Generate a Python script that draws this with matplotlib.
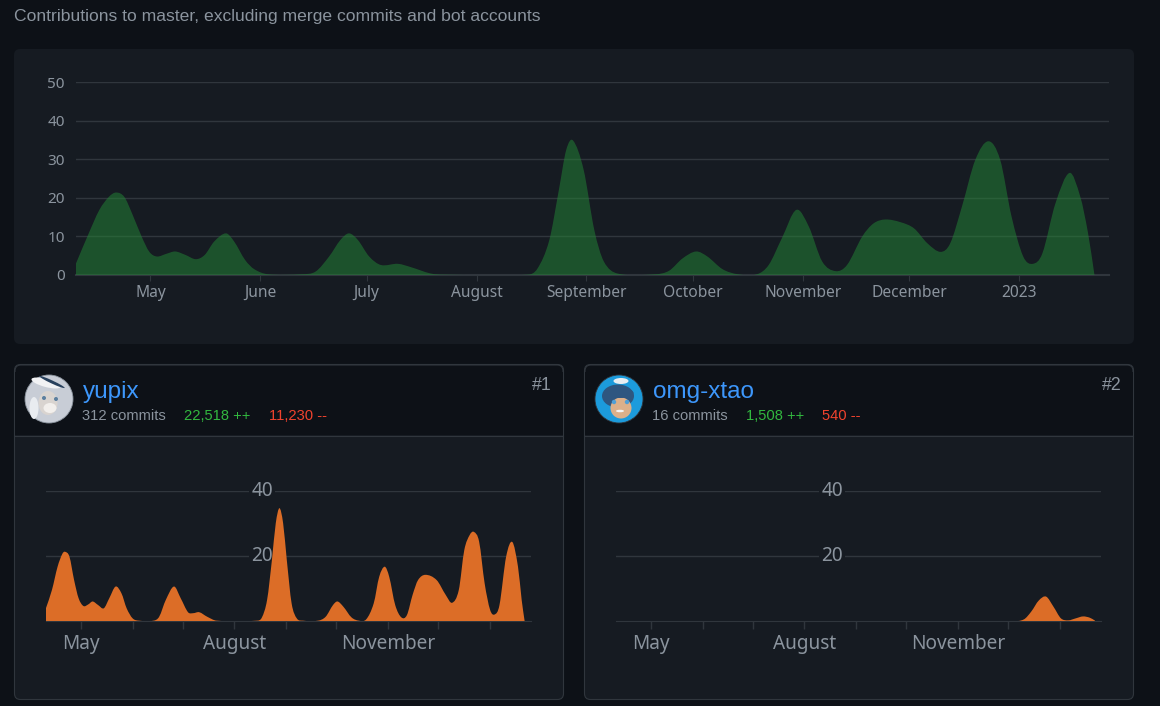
#!/usr/bin/python
# Contributors page: total commits on top, one card per contributor below
import numpy as np
import matplotlib
matplotlib.use('Agg')
import matplotlib.pyplot as plt
from matplotlib.patches import Circle, Ellipse, FancyBboxPatch, PathPatch, Rectangle
from matplotlib.path import Path

# x values are days since 2022-04-10
total_days = [0, 3.4, 6.6, 9.3, 11.3, 13.6, 15.8, 18.5, 20.7, 22.8, 25.5, 28, 30.9, 33.8, 36.3, 39, 42.3, 44.6, 47.7,
              50.3, 54.1, 63.8, 67.6, 71.4, 74.6, 77, 79.5, 82.7, 86, 90.8, 94.6, 100, 103.8, 127.5, 130.2, 133.5,
              136.2, 138.3, 140.2, 143.2, 146.2, 148.9, 152.7, 163.5, 167.3, 171.1, 174.9, 178.1, 182.4, 186.7,
              192.1, 195.4, 199.1, 203.2, 206.7, 210.5, 214.3, 217.5, 221.8, 225, 228.3, 232.6, 236.4, 240.2, 243.9,
              246.6, 249.9, 253.7, 257.4, 260.7, 263.9, 267.2, 269.9, 272.6, 276.3, 280.3, 283.3, 285.5, 287.3]
total_commits = [3, 10.4, 16.9, 20.3, 21.4, 20.3, 16, 10, 6, 4.8, 5.5, 6.1, 5.2, 4.1, 5.2, 8.7, 10.8, 8.7, 3.9,
                 1.5, 0.2, 0.2, 0.9, 4.8, 9.1, 10.8, 9.1, 4.8, 2.6, 2.9, 2, 0.4, 0.1, 0.1, 1.7, 9,
                 22, 32.5, 34.9, 27.3, 11.7, 3.5, 0.4, 0.2, 1.1, 4.3, 6.1, 4.8, 1.5, 0.2,
                 0.2, 2.6, 9.5, 16.9, 12.6, 3.5, 1, 2.6, 10, 13.4, 14.4, 13.7, 12.1, 8.2, 6,
                 8.2, 17.7, 29.9, 34.7, 29.9, 15.2, 4.8, 2.9, 5.6, 18.6, 26.5, 20.3, 10.8, 0]

yupix_days = [0, 3.6, 7, 9.8, 11.4, 14.1, 16.9, 19.6, 22.5, 25.4, 28, 31.3, 34.7, 38, 41.8, 45.3, 48.4, 52, 55.7,
              64.6, 67.9, 71.9, 76.8, 80.8, 85.2, 88.3, 91.9, 96.7, 102.3, 126.7, 129.5, 132.6, 135.5, 137.8, 140,
              142.2, 144.4, 147.3, 150.4, 154, 163.2, 167.7, 172.1, 174.8, 178.3, 183.2, 187.6, 192, 196.5, 199.8,
              203.1, 205.8, 209.4, 213.1, 216.4, 219.8, 223.1, 227.5, 234.2, 239.7, 243.5, 247.5, 250.8, 254.1,
              256.6, 259.7, 263, 266.3, 269, 271.9, 275.9, 279.6, 283, 285.2, 287]
yupix_commits = [4, 9.6, 16.8, 20.7, 21.4, 19.9, 12.7, 7.1, 4.7, 5.2, 6.1, 5, 4, 7.1, 10.7, 8.6, 4, 0.9, 0.2,
                 0.2, 1.4, 6.6, 10.7, 7.1, 2.8, 2.5, 2.8, 1.4, 0.2, 0.2, 1.2, 6.6, 18.9, 30.2, 34.8,
                 30.2, 18.9, 5.5, 0.9, 0.2, 0.2, 1.4, 5, 6.1, 4.5, 1.2, 0.2, 0.6, 5.5, 13.7,
                 16.8, 13.7, 5, 1.2, 1.9, 8.1, 12.7, 14.3, 12.7, 8.1, 5.7, 9.6, 21.9, 26.6,
                 27.5, 24.5, 11.7, 3.5, 2.1, 5, 19.9, 24.4, 16.8, 6.6, 0]

xtao_days = [0, 238, 244.6, 249, 253.5, 257.9, 262.3, 266.8, 271.2, 275.6, 280, 284.1, 287.2]
xtao_commits = [0, 0, 0.6, 3, 6.4, 7.6, 4.5, 0.9, 0.3, 0.9, 1.5, 1.1, 0.2]

total_ticks = [21, 52, 82, 113, 144, 174, 205, 235, 266]
total_labels = ['May', 'June', 'July', 'August', 'September', 'October', 'November', 'December', '2023']
card_ticks = [21, 52, 82, 113, 144, 174, 205, 235, 266]
card_labels = ['May', '', '', 'August', '', '', 'November', '', '']

users = ['yupix', 'omg-xtao']
commits = ['312 commits', '16 commits']
adds = ['22,518 ++', '1,508 ++']
dels = ['11,230 --', '540 --']
ranks = ['#1', '#2']

BG = '#0d1117'
PANEL = '#161b22'
LINE = '#30363d'
MUTED = '#8b949e'
W = 1160
H = 706

plt.rcParams['font.family'] = ['Liberation Sans', 'DejaVu Sans']
fig = plt.figure(figsize=(W / 100, H / 100), dpi=100, facecolor=BG)

# background layer in pixel coordinates
bg = fig.add_axes([0, 0, 1, 1])
bg.set_xlim(0, W)
bg.set_ylim(H, 0)
bg.axis('off')


def px_axes(left, top, right, bottom):
    return fig.add_axes([left / W, 1 - bottom / H, (right - left) / W, (bottom - top) / H], facecolor='none')


def smooth_area(ax, x, y, **kw):
    # cubic segments through the read values, so the area has the round look of the original
    n = len(x)
    slope = [0.0] * n
    for i in range(1, n - 1):
        slope[i] = (y[i + 1] - y[i - 1]) / (x[i + 1] - x[i - 1])
    slope[0] = (y[1] - y[0]) / (x[1] - x[0])
    slope[-1] = (y[-1] - y[-2]) / (x[-1] - x[-2])
    verts = [(x[0], 0), (x[0], y[0])]
    codes = [Path.MOVETO, Path.LINETO]
    for i in range(n - 1):
        h = (x[i + 1] - x[i]) / 3
        verts.append((x[i] + h, y[i] + slope[i] * h))
        verts.append((x[i + 1] - h, y[i + 1] - slope[i + 1] * h))
        verts.append((x[i + 1], y[i + 1]))
        codes += [Path.CURVE4, Path.CURVE4, Path.CURVE4]
    verts += [(x[-1], 0), (x[0], 0)]
    codes += [Path.LINETO, Path.CLOSEPOLY]
    ax.add_patch(PathPatch(Path(verts, codes), linewidth=0, **kw))


bg.add_patch(FancyBboxPatch((18, 53), 1112, 287, boxstyle='round,pad=4,rounding_size=6', fc=PANEL, ec='none'))
bg.text(14, 16.5, 'Contributions to master, excluding merge commits and bot accounts', color=MUTED,
        fontsize=12.6, va='center')

# ---- total commits ----
ax = px_axes(76, 82.3, 1109, 275)
smooth_area(ax, total_days, total_commits, facecolor='#238636', alpha=0.52, zorder=3)
ax.set_xlim(0, 291.4)
ax.set_ylim(0, 50)
ax.set_yticks([0, 10, 20, 30, 40, 50])
ax.set_xticks(total_ticks)
ax.set_xticklabels(total_labels)
ax.grid(axis='y', color=LINE, linewidth=1, zorder=1)
ax.set_axisbelow(True)
for s in ['top', 'left', 'right']:
    ax.spines[s].set_visible(False)
ax.spines['bottom'].set_color(LINE)
ax.spines['bottom'].set_linewidth(1.5)
ax.tick_params(axis='y', length=0, pad=8, labelcolor=MUTED, labelsize=11)
ax.tick_params(axis='x', length=4.5, width=0.8, color=LINE, pad=2.5, labelcolor=MUTED, labelsize=11.2)
for t in ax.get_xticklabels() + ax.get_yticklabels():
    t.set_fontfamily(['Noto Sans', 'DejaVu Sans'])

# ---- contributor cards ----
series = [(yupix_days, yupix_commits), (xtao_days, xtao_commits)]
for i in range(2):
    dx = 570 * i
    # card body, header and border
    bg.add_patch(FancyBboxPatch((18.5 + dx, 368.5), 541, 327, boxstyle='round,pad=4,rounding_size=6',
                                fc=PANEL, ec=LINE, lw=0.8, zorder=1))
    bg.add_patch(Rectangle((15 + dx, 372), 548, 63, fc=BG, ec='none', zorder=2))
    bg.plot([15 + dx, 563 + dx], [435.5, 435.5], color=LINE, lw=0.8, zorder=3)
    bg.add_patch(FancyBboxPatch((19 + dx, 369), 540, 6, boxstyle='round,pad=4,rounding_size=6',
                                fc=BG, ec=LINE, lw=0.8, zorder=1.5))

    # avatars, only a rough likeness
    if i == 0:
        bg.add_patch(Circle((49, 399), 24, fc='#c8cdd6', ec='#8b949e', lw=0.6, zorder=4))
        bg.add_patch(Ellipse((46, 383), 30, 8, angle=15, fc='#f1f2f4', zorder=5))
        bg.add_patch(Ellipse((52, 382), 28, 3, angle=25, fc='#27405c', zorder=5))
        bg.add_patch(Ellipse((48, 403), 19, 24, fc='#d9d4d0', zorder=5))
        bg.add_patch(Ellipse((50, 408), 13, 10, fc='#f2efec', zorder=6))
        bg.add_patch(Circle((44, 398), 2, fc='#5b7f9f', zorder=6))
        bg.add_patch(Circle((56, 399), 2, fc='#5b7f9f', zorder=6))
        bg.add_patch(Ellipse((34, 408), 9, 22, fc='#e9ecf0', zorder=5))
    else:
        bg.add_patch(Circle((619, 399), 24, fc='#1c9bdc', ec='#30363d', lw=0.6, zorder=4))
        bg.add_patch(Ellipse((618, 396), 32, 23, fc='#2e5680', zorder=5))
        bg.add_patch(Ellipse((621, 408), 21, 21, fc='#dcb08a', zorder=6))
        bg.add_patch(Ellipse((620, 393), 27, 10, fc='#2e5680', zorder=7))
        bg.add_patch(Ellipse((621, 381), 15, 6, fc='#e8eef2', zorder=8))
        bg.add_patch(Circle((614, 402), 2.2, fc='#4f9fd6', zorder=8))
        bg.add_patch(Circle((627, 402), 2.2, fc='#4f9fd6', zorder=8))
        bg.add_patch(Ellipse((620, 411), 8, 2.5, fc='#f5f5f5', zorder=8))

    bg.text(82.5 + dx, 392, users[i], color='#3d97fb', fontsize=17.5, va='center', zorder=5)
    x_commits = 82.5 + dx
    x_adds = [184, 746][i]
    x_dels = [269, 822][i]
    bg.text(x_commits, 416, commits[i], color=MUTED, fontsize=10.6, va='center', zorder=5)
    bg.text(x_adds, 416, adds[i], color='#32b83f', fontsize=10.6, va='center', zorder=5)
    bg.text(x_dels, 416, dels[i], color='#f0432e', fontsize=10.6, va='center', zorder=5)
    bg.text(552 + dx, 386, ranks[i], color=MUTED, fontsize=12.8, va='center', ha='right', zorder=5)

    ax = px_axes(45.9 + dx, 491.3, 531 + dx, 621.3)
    days, vals = series[i]
    ax.set_xlim(0, 290.8)
    ax.set_ylim(0, 40)
    ax.set_yticks([20, 40])
    ax.set_yticklabels([])
    ax.set_xticks(card_ticks)
    ax.set_xticklabels(card_labels)
    ax.grid(axis='y', color=LINE, linewidth=1, zorder=1)
    ax.set_axisbelow(True)
    for v in [20, 40]:
        ax.text(0.4455, v + 0.2, str(v), transform=ax.get_yaxis_transform(), color=MUTED, fontsize=13.7,
                ha='center', va='center', zorder=2, clip_on=False, family=['Noto Sans', 'DejaVu Sans'],
                bbox=dict(fc=PANEL, ec='none', pad=1.5))
    smooth_area(ax, days, vals, facecolor='#dc6d27', zorder=3)
    for s in ['top', 'left', 'right']:
        ax.spines[s].set_visible(False)
    ax.spines['bottom'].set_color(LINE)
    ax.tick_params(axis='y', length=0)
    ax.tick_params(axis='x', length=6, width=1, color=LINE, pad=3, labelcolor=MUTED, labelsize=13.7)
    for t in ax.get_xticklabels():
        t.set_fontfamily(['Noto Sans', 'DejaVu Sans'])

plt.savefig('out.png', dpi=100, facecolor=BG)
